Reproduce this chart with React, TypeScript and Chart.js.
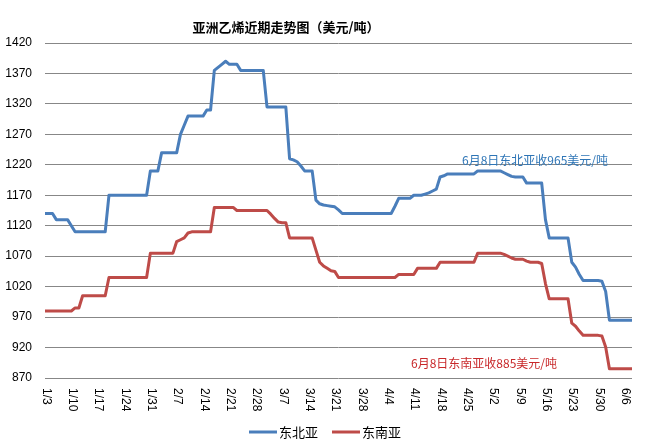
import React, { useEffect, useRef } from 'react';
import { Chart, registerables } from 'chart.js';

Chart.register(...registerables);

// Daily categories, 2017-01-03 .. 2017-06-08 (month, first day, last day)
const MONTH_SPANS: [number, number, number][] = [
  [1, 3, 31],
  [2, 1, 28],
  [3, 1, 31],
  [4, 1, 30],
  [5, 1, 31],
  [6, 1, 8],
];
const CATEGORIES: string[] = MONTH_SPANS.flatMap(([m, s, e]) =>
  Array.from({ length: e - s + 1 }, (_, i) => `${m}/${s + i}`)
);

const TICK_LABELS = [
  '1/3', '1/10', '1/17', '1/24', '1/31', '2/7', '2/14', '2/21', '2/28', '3/7', '3/14', '3/21',
  '3/28', '4/4', '4/11', '4/18', '4/25', '5/2', '5/9', '5/16', '5/23', '5/30', '6/6',
];

const Y_MIN = 870;
const Y_MAX = 1420;
const Y_STEP = 50;

const SERIES_NAMES = ['东北亚', '东南亚'];

// 东北亚 (one row per week starting 1/3)
const NORTHEAST_ASIA = [
  1140, 1140, 1140, 1130, 1130, 1130, 1130,
  1120, 1110, 1110, 1110, 1110, 1110, 1110,
  1110, 1110, 1110, 1170, 1170, 1170, 1170,
  1170, 1170, 1170, 1170, 1170, 1170, 1170,
  1210, 1210, 1210, 1240, 1240, 1240, 1240,
  1240, 1270, 1285, 1300, 1300, 1300, 1300,
  1300, 1310, 1310, 1375, 1380, 1385, 1390,
  1385, 1385, 1385, 1375, 1375, 1375, 1375,
  1375, 1375, 1375, 1315, 1315, 1315, 1315,
  1315, 1315, 1230, 1228, 1225, 1218, 1210,
  1210, 1210, 1162, 1156, 1154, 1153, 1152,
  1151, 1146, 1140, 1140, 1140, 1140, 1140,
  1140, 1140, 1140, 1140, 1140, 1140, 1140,
  1140, 1140, 1152, 1165, 1165, 1165, 1165,
  1170, 1170, 1170, 1172, 1174, 1177, 1180,
  1200, 1202, 1205, 1205, 1205, 1205, 1205,
  1205, 1205, 1205, 1210, 1210, 1210, 1210,
  1210, 1210, 1210, 1207, 1204, 1201, 1200,
  1200, 1200, 1190, 1190, 1190, 1190, 1190,
  1130, 1100, 1100, 1100, 1100, 1100, 1100,
  1060, 1052, 1040, 1030, 1030, 1030, 1030,
  1030, 1029, 1012, 965, 965, 965, 965,
  965, 965, 965,
];

// 东南亚
const SOUTHEAST_ASIA = [
  980, 980, 980, 980, 980, 980, 980,
  980, 985, 985, 1005, 1005, 1005, 1005,
  1005, 1005, 1005, 1035, 1035, 1035, 1035,
  1035, 1035, 1035, 1035, 1035, 1035, 1035,
  1075, 1075, 1075, 1075, 1075, 1075, 1075,
  1094, 1097, 1100, 1108, 1110, 1110, 1110,
  1110, 1110, 1110, 1150, 1150, 1150, 1150,
  1150, 1150, 1145, 1145, 1145, 1145, 1145,
  1145, 1145, 1145, 1145, 1139, 1132, 1126,
  1125, 1125, 1100, 1100, 1100, 1100, 1100,
  1100, 1100, 1080, 1060, 1054, 1050, 1046,
  1045, 1035, 1035, 1035, 1035, 1035, 1035,
  1035, 1035, 1035, 1035, 1035, 1035, 1035,
  1035, 1035, 1035, 1040, 1040, 1040, 1040,
  1040, 1050, 1050, 1050, 1050, 1050, 1050,
  1060, 1060, 1060, 1060, 1060, 1060, 1060,
  1060, 1060, 1060, 1075, 1075, 1075, 1075,
  1075, 1075, 1075, 1073, 1070, 1067, 1065,
  1065, 1065, 1062, 1060, 1060, 1060, 1058,
  1025, 1000, 1000, 1000, 1000, 1000, 1000,
  960, 955, 947, 940, 940, 940, 940,
  940, 939, 921, 885, 885, 885, 885,
  885, 885, 885,
];

const TITLE = '亚洲乙烯近期走势图（美元/吨）';
const NOTE_NE = '6月8日东北亚收965美元/吨';
const NOTE_SE = '6月8日东南亚收885美元/吨';

const BLUE = '#4A7EBB';
const RED = '#BE4B48';
const CJK = '"Noto Sans CJK SC", "Noto Sans", sans-serif';
const LATIN = '"Liberation Sans", Arial, sans-serif';

const decorPlugin = {
  id: 'decor',
  afterDraw(chart: any) {
    const ctx: CanvasRenderingContext2D = chart.ctx;
    const xs = chart.scales.x;
    const ys = chart.scales.y;

    // rotated x tick labels (reading top to bottom)
    ctx.save();
    ctx.fillStyle = '#000';
    ctx.font = `12px ${LATIN}`;
    ctx.textAlign = 'left';
    ctx.textBaseline = 'middle';
    TICK_LABELS.forEach((lab) => {
      const idx = CATEGORIES.indexOf(lab);
      if (idx < 0) return;
      const x = xs.getPixelForValue(idx);
      ctx.save();
      ctx.translate(x + 1, xs.top + 10);
      ctx.rotate(Math.PI / 2);
      ctx.fillText(lab, 0, 0);
      ctx.restore();
    });
    ctx.restore();

    // title
    ctx.save();
    ctx.fillStyle = '#000';
    ctx.font = `bold 13px ${CJK}`;
    ctx.textAlign = 'center';
    ctx.textBaseline = 'middle';
    ctx.fillText(TITLE, 286, 27);
    ctx.restore();

    // annotations
    ctx.save();
    ctx.font = `12px ${CJK}`;
    ctx.textAlign = 'left';
    ctx.textBaseline = 'middle';
    ctx.fillStyle = '#2E75B6';
    ctx.fillText(NOTE_NE, 462, ys.getPixelForValue(1225) - 1);
    ctx.fillStyle = '#C8282A';
    ctx.fillText(NOTE_SE, 411, ys.getPixelForValue(895) + 1);
    ctx.restore();

    // legend
    ctx.save();
    ctx.font = `13px ${CJK}`;
    ctx.textBaseline = 'middle';
    ctx.textAlign = 'left';
    const sample = 28;
    const gapText = 2;
    const gapItem = 14;
    const items = chart.data.datasets.map((d: any) => ({
      label: d.label,
      color: d.borderColor,
      w: ctx.measureText(d.label).width,
    }));
    const total =
      items.reduce((a: number, it: any) => a + sample + gapText + it.w, 0) +
      gapItem * (items.length - 1);
    let x = 325 - total / 2;
    const y = 432;
    items.forEach((it: any) => {
      ctx.strokeStyle = it.color;
      ctx.lineWidth = 3;
      ctx.beginPath();
      ctx.moveTo(x, y);
      ctx.lineTo(x + sample, y);
      ctx.stroke();
      ctx.fillStyle = '#000';
      ctx.fillText(it.label, x + sample + gapText, y);
      x += sample + gapText + it.w + gapItem;
    });
    ctx.restore();
  },
};

export default function App() {
  const ref = useRef<HTMLCanvasElement | null>(null);

  useEffect(() => {
    if (!ref.current) return;
    const chart = new Chart(ref.current, {
      type: 'line',
      data: {
        labels: CATEGORIES,
        datasets: [
          {
            label: SERIES_NAMES[0],
            data: NORTHEAST_ASIA,
            borderColor: BLUE,
            backgroundColor: BLUE,
            borderWidth: 3,
            pointRadius: 0,
            tension: 0,
            borderJoinStyle: 'round',
          },
          {
            label: SERIES_NAMES[1],
            data: SOUTHEAST_ASIA,
            borderColor: RED,
            backgroundColor: RED,
            borderWidth: 3,
            pointRadius: 0,
            tension: 0,
            borderJoinStyle: 'round',
          },
        ],
      },
      options: {
        responsive: false,
        animation: false,
        layout: { padding: { top: 43, right: 18, bottom: 0, left: 0 } },
        plugins: {
          legend: { display: false },
          title: { display: false },
          tooltip: { enabled: false },
        },
        scales: {
          x: {
            type: 'category',
            offset: false,
            grid: { display: false },
            border: { display: false },
            ticks: { display: false },
            afterFit: (s: any) => {
              s.height = 69;
            },
          },
          y: {
            min: Y_MIN,
            max: Y_MAX,
            border: { display: false },
            grid: { color: '#878787', lineWidth: 1, drawTicks: false },
            ticks: {
              stepSize: Y_STEP,
              padding: 13,
              color: '#000',
              font: { family: LATIN, size: 12 },
              callback: (v: any) => String(v),
            },
            afterFit: (s: any) => {
              s.width = 45;
            },
          },
        },
      },
      plugins: [decorPlugin],
    } as any);
    return () => chart.destroy();
  }, []);

  return (
    <div style={{ position: 'fixed', left: 0, top: 0, width: 650, height: 447, background: '#fff' }}>
      <canvas ref={ref} width={650} height={447} style={{ display: 'block' }} />
    </div>
  );
}
